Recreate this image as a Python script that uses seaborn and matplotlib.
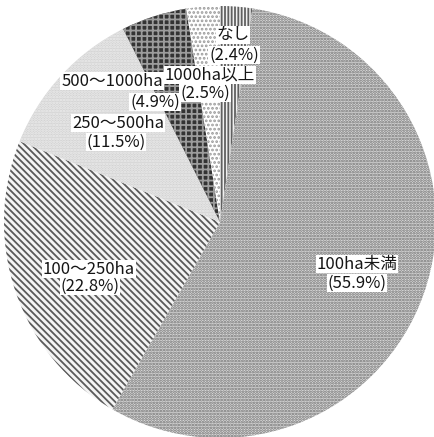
import matplotlib
matplotlib.use("Agg")
import matplotlib.pyplot as plt
import seaborn as sns

# Farm size classes, listed clockwise from 12 o'clock
categories = ["なし", "100ha未満", "100～250ha", "250～500ha", "500～1000ha", "1000ha以上"]
shares = [2.4, 55.9, 22.8, 11.5, 4.9, 2.5]

# Fill style for each wedge: face colour, hatch colour, hatch pattern
faces = ["#f0f0f0", "#dcdcdc", "#f4f4f4", "#d2d2d2", "#333333", "#ffffff"]
hatch_colors = ["#606060", "#707070", "#5a5a5a", "#eeeeee", "#9c9c9c", "#9a9a9a"]
hatches = ["|||||", "......", "\\\\\\\\\\", "......", "+++", "...."]

sns.set_theme(style="white")
plt.rcParams["font.family"] = ["Noto Sans CJK JP", "DejaVu Sans"]
plt.rcParams["hatch.linewidth"] = 1.3

W, H = 434, 437
cx, cy, r = 220, 222, 216
fig = plt.figure(figsize=(W / 100, H / 100), dpi=100)
ax = fig.add_axes([(cx - r) / W, (H - cy - r) / H, 2 * r / W, 2 * r / H])

wedges, _ = ax.pie(shares, startangle=90, counterclock=False, radius=1,
                   colors=faces, wedgeprops=dict(linewidth=0))
for w, hc, hp in zip(wedges, hatch_colors, hatches):
    w.set_edgecolor(hc)
    w.set_linewidth(0)
    w.set_hatch(hp)

ax.set_aspect("auto")
ax.set_xlim(-1, 1)
ax.set_ylim(-1, 1)
ax.axis("off")


def px(x, y):
    return (x - cx) / r, (cy - y) / r


box = dict(boxstyle="square,pad=0.05", facecolor="white", edgecolor="none")
label_lines = [
    ("なし", (233, 35)),
    (f"({shares[0]}%)", (234, 55)),
    ("100ha未満", (357, 264)),
    (f"({shares[1]}%)", (357, 283)),
    ("100～250ha", (89, 269)),
    (f"({shares[2]}%)", (90, 286)),
    ("250～500ha", (118, 123)),
    (f"({shares[3]}%)", (116, 142)),
    ("500～1000ha", (112, 81)),
    (f"({shares[4]}%)", (155, 102)),
    ("1000ha以上", (210, 75)),
    (f"({shares[5]}%)", (205, 93)),
]
for text, (x, y) in label_lines:
    ax.text(*px(x, y), text, ha="center", va="center", fontsize=12,
            color="#151515", bbox=box)

fig.savefig("out.png", dpi=100, facecolor="white")
